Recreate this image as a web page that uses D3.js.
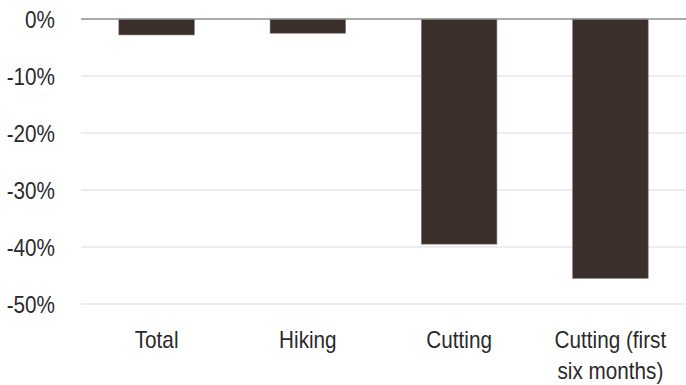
<!DOCTYPE html>
<html><head><meta charset="utf-8">
<script src="https://cdn.jsdelivr.net/npm/d3@7"></script>
<style>body{margin:0;background:#fff}</style>
</head><body>
<svg id="c" width="686" height="385"></svg>
<script>
const categories = ["Total", "Hiking", "Cutting", "Cutting (first\nsix months)"];
const values = [-2.8, -2.5, -39.5, -45.5];
const yTicks = [0, -10, -20, -30, -40, -50];

const svg = d3.select("#c");
const m = {left: 81, right: 0, top: 19, bottom: 81};
const W = 686, H = 385;
const x = d3.scaleBand().domain(categories).range([m.left, W]).paddingInner(0.5).paddingOuter(0.25);
const y = d3.scaleLinear().domain([-50, 0]).range([304, 19]);
const font = "'Liberation Sans', Arial, sans-serif";
const fs = 23, sx = 0.9;

// grid
svg.append("g").selectAll("line").data(yTicks.filter(d => d !== 0)).join("line")
  .attr("x1", m.left).attr("x2", W)
  .attr("y1", d => y(d)).attr("y2", d => y(d))
  .attr("stroke", "#dcdcdc").attr("stroke-width", 1.2);

// bars
svg.append("g").selectAll("rect").data(values).join("rect")
  .attr("x", (d, i) => x(categories[i]))
  .attr("width", x.bandwidth())
  .attr("y", y(0))
  .attr("height", d => y(d) - y(0))
  .attr("fill", "#3b2f2c").attr("stroke", "#8a807e").attr("stroke-width", 0.6);

// zero line
svg.append("line").attr("x1", m.left).attr("x2", W).attr("y1", y(0)).attr("y2", y(0))
  .attr("stroke", "#8c8c8c").attr("stroke-width", 1.5);

// y labels
svg.append("g").selectAll("text").data(yTicks).join("text")
  .attr("transform", d => `translate(55,${y(d) + 9}) scale(${sx},1)`)
  .attr("text-anchor", "end")
  .attr("font-family", font).attr("font-size", fs).attr("fill", "#2a2a2a")
  .text(d => d + "%");

// x labels
const xl = svg.append("g").selectAll("text").data(categories).join("text")
  .attr("text-anchor", "middle")
  .attr("font-family", font).attr("font-size", fs).attr("fill", "#2a2a2a")
  .attr("transform", d => `translate(${x(d) + x.bandwidth() / 2},348) scale(${sx},1)`);
xl.each(function(d) {
  const t = d3.select(this);
  d.split("\n").forEach((s, i) => {
    t.append("tspan").attr("x", 0).attr("dy", i === 0 ? 0 : 31).text(s);
  });
});
</script>
</body></html>
